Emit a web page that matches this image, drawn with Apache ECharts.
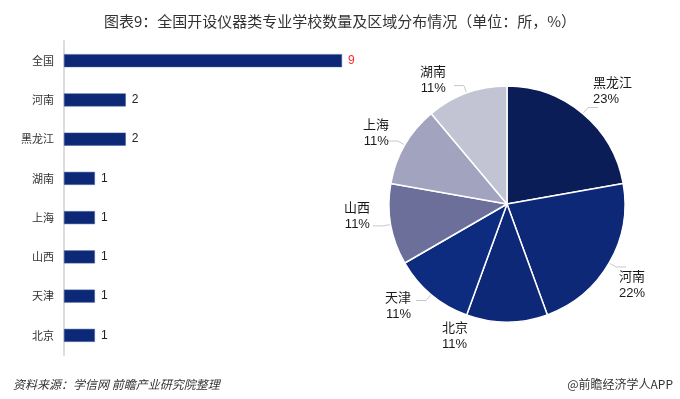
<!DOCTYPE html>
<html>
<head>
<meta charset="utf-8">
<script src="https://cdn.jsdelivr.net/npm/echarts@6/dist/echarts.min.js"></script>
<style>
  html, body { margin: 0; padding: 0; background: #fff; }
  #chart { width: 680px; height: 399px; }
</style>
</head>
<body>
<div id="chart"></div>
<script>
// 条形图数据（从上到下）
const barNames = ['全国', '河南', '黑龙江', '湖南', '上海', '山西', '天津', '北京'];
const barValues = [9, 2, 2, 1, 1, 1, 1, 1];

// 饼图数据（顺时针，从12点开始）
const pieNames = ['黑龙江', '河南', '北京', '天津', '山西', '上海', '湖南'];
const pieValues = [2, 2, 1, 1, 1, 1, 1];
const pieLabels = ['23%', '22%', '11%', '11%', '11%', '11%', '11%'];
const pieColors = ['#0b1d57', '#0c2877', '#0c2877', '#0d2c80', '#6b6f99', '#a2a4bf', '#c2c4d3'];
// 标签微调（原图中标签被手动拖动过）
const labelShift = [[-10, -16], [-12, 18], [-80, 6], [0, 6], [2, -9], [6, -8], [-3, -5]];

let myChart = echarts.init(document.getElementById('chart'));

const option = {
  animation: false,
  title: [
    {
      text: '图表9：全国开设仪器类专业学校数量及区域分布情况（单位：所，%）',
      left: 'center',
      top: 9,
      textStyle: { fontFamily: 'Noto Sans CJK SC', fontWeight: 'normal', fontSize: 15, color: '#333' }
    },
    {
      text: '资料来源：学信网 前瞻产业研究院整理',
      left: 8,
      top: 373,
      textStyle: { fontFamily: 'Noto Sans CJK SC', fontWeight: 'normal', fontStyle: 'italic', fontSize: 12, color: '#333' }
    },
    {
      text: '@前瞻经济学人APP',
      right: 2,
      top: 373,
      textStyle: { fontFamily: 'Noto Sans CJK SC', fontWeight: 'normal', fontSize: 12, color: '#333' }
    }
  ],
  grid: { left: 64, top: 41, width: 278, height: 314 },
  xAxis: {
    type: 'value',
    min: 0,
    max: 9,
    show: false
  },
  yAxis: {
    type: 'category',
    inverse: true,
    data: barNames,
    axisLine: { lineStyle: { color: '#dcdcdc', width: 2 } },
    axisTick: { show: false },
    axisLabel: { color: '#333', fontSize: 11, margin: 10, fontFamily: 'Noto Sans CJK SC' }
  },
  series: [
    {
      type: 'bar',
      data: barValues.map((v, i) => ({
        value: v,
        label: i === 0 ? { color: '#ff2a2a' } : {}
      })),
      barWidth: 13,
      itemStyle: { color: '#0c2877', borderColor: '#3c5a9e', borderWidth: 0.5 },
      label: {
        show: true,
        position: 'right',
        distance: 6,
        color: '#222',
        fontSize: 12,
        fontFamily: 'Liberation Sans'
      }
    },
    {
      type: 'pie',
      center: [507, 204],
      radius: [0, 118],
      startAngle: 90,
      clockwise: true,
      data: pieNames.map((n, i) => ({
        name: n,
        value: pieValues[i],
        labelLine: n === '北京' ? { show: false } : undefined
      })),
      color: pieColors,
      itemStyle: { borderColor: '#fff', borderWidth: 1.5 },
      label: {
        show: true,
        formatter: (p) => p.name + '\n' + pieLabels[p.dataIndex],
        color: '#1a1a1a',
        fontSize: 13,
        lineHeight: 16,
        fontFamily: 'Liberation Sans, Noto Sans CJK SC',
        align: 'center'
      },
      labelLine: { show: true, length: 8, length2: 10, lineStyle: { color: '#c8c8c8', width: 1 } },
      labelLayout: (p) => ({ dx: labelShift[p.dataIndex][0], dy: labelShift[p.dataIndex][1] })
    }
  ]
};
myChart.setOption(option);
</script>
</body>
</html>
